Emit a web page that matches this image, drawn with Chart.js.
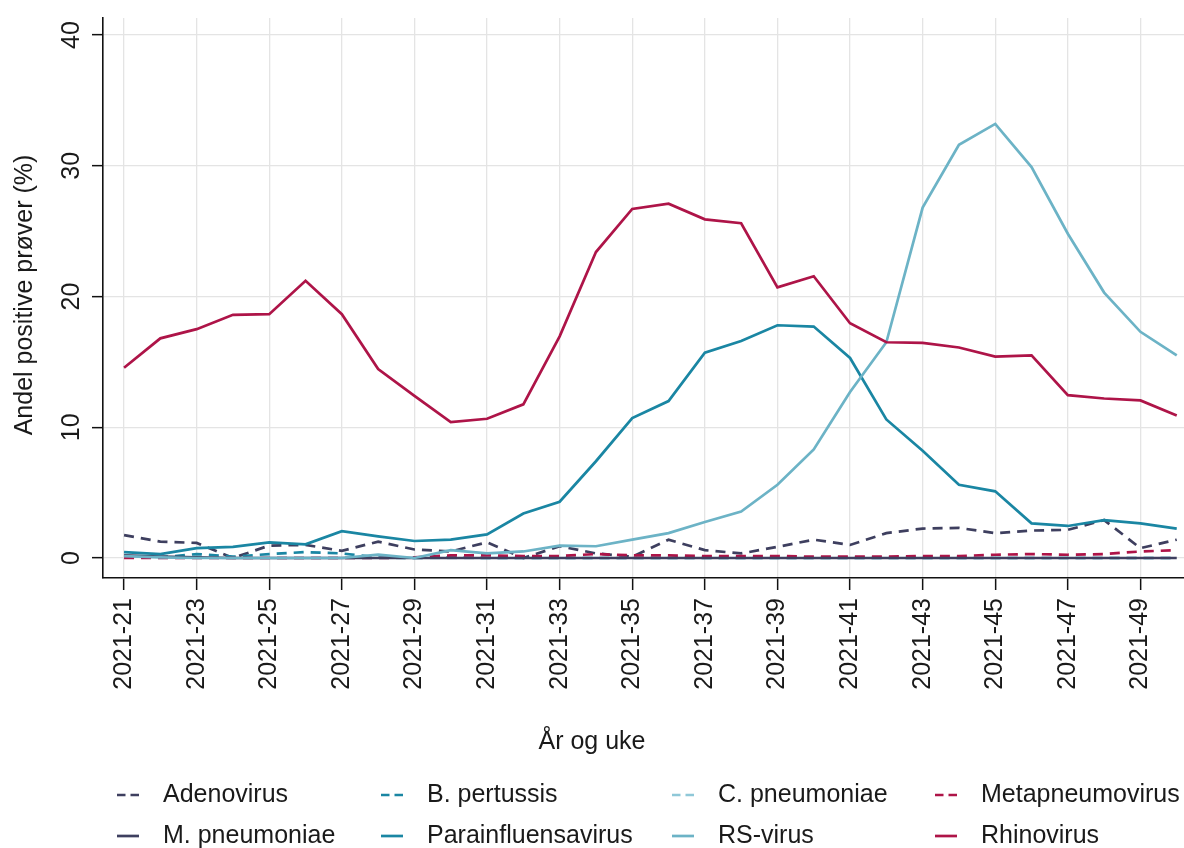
<!DOCTYPE html>
<html>
<head>
<meta charset="utf-8">
<script src="https://cdn.jsdelivr.net/npm/chart.js@4.4.1/dist/chart.umd.min.js"></script>
<style>
  html, body { margin: 0; padding: 0; background: #ffffff; }
  #wrap { width: 1184px; height: 848px; position: relative; }
</style>
</head>
<body>
<div id="wrap"><canvas id="chart" width="1184" height="848"></canvas></div>
<script>
// Uke-kategorier (år-uke)
const weekLabels = [
  '2021-21','2021-22','2021-23','2021-24','2021-25','2021-26','2021-27','2021-28','2021-29','2021-30',
  '2021-31','2021-32','2021-33','2021-34','2021-35','2021-36','2021-37','2021-38','2021-39','2021-40',
  '2021-41','2021-42','2021-43','2021-44','2021-45','2021-46','2021-47','2021-48','2021-49','2021-50'
];
const yTickValues = [0, 10, 20, 30, 40];

// Andel positive prøver (%) per agens
const adenovirus      = [1.75,1.25,1.15,0.0,0.95,1.0,0.55,1.25,0.65,0.5,1.2,0.0,0.9,0.35,0.1,1.4,0.6,0.35,0.85,1.4,1.0,1.9,2.25,2.3,1.9,2.1,2.15,2.9,0.75,1.4];
const bPertussis      = [0.1,0.05,0.3,0.1,0.3,0.45,0.35,0.05,0,0.05,0,0,0,0,0,0,0,0,0,0,0,0,0,0,0,0,0,0,0,0];
const cPneumoniae     = [0.1,0,0,0,0,0,0,0,0,0,0,0,0,0,0,0,0,0,0,0,0,0,0,0,0,0,0,0,0,0];
const metapneumovirus = [0,0,0,0,0,0,0,0,0.05,0.2,0.2,0.15,0.15,0.3,0.2,0.2,0.15,0.15,0.15,0.1,0.1,0.1,0.15,0.15,0.25,0.3,0.25,0.3,0.5,0.6];
const mPneumoniae     = [0.2,0.1,0.05,0,0,0,0,0,0,0,0,0,0,0,0,0,0,0,0,0,0,0,0,0,0,0,0,0,0,0];
const parainfluensa   = [0.45,0.3,0.75,0.85,1.2,1.05,2.05,1.65,1.3,1.4,1.8,3.4,4.3,7.4,10.7,12.0,15.7,16.6,17.8,17.7,15.3,10.6,8.2,5.6,5.1,2.65,2.45,2.9,2.65,2.25];
const rsVirus         = [0.15,0.05,0,0,0,0,0,0.25,0,0.6,0.35,0.5,0.95,0.9,1.4,1.9,2.75,3.55,5.6,8.3,12.7,16.5,26.8,31.6,33.2,29.9,24.8,20.3,17.3,15.5];
const rhinovirus      = [14.55,16.8,17.5,18.6,18.65,21.2,18.65,14.45,12.4,10.4,10.65,11.75,16.95,23.4,26.7,27.1,25.9,25.6,20.7,21.55,17.95,16.5,16.45,16.1,15.4,15.5,12.45,12.2,12.05,10.9];

const FONT = '"Liberation Sans", Arial, Helvetica, sans-serif';
const TEXT = '#1a1a1a';
const SLATE = '#3e3f5f';
const TEAL = '#1a86a3';
const LIGHT_TEAL = '#6cb3c6';
const PALE_TEAL = '#8fc8d8';
const CRIMSON = '#ae1448';
const DASH = [10, 7];

const seriesDefs = [
  { label: 'Adenovirus',         data: adenovirus,      color: SLATE,      dashed: true },
  { label: 'B. pertussis',       data: bPertussis,      color: TEAL,       dashed: true },
  { label: 'C. pneumoniae',      data: cPneumoniae,     color: PALE_TEAL,  dashed: true },
  { label: 'Metapneumovirus',    data: metapneumovirus, color: CRIMSON,    dashed: true },
  { label: 'M. pneumoniae',      data: mPneumoniae,     color: SLATE,      dashed: false },
  { label: 'Parainfluensavirus', data: parainfluensa,   color: TEAL,       dashed: false },
  { label: 'RS-virus',           data: rsVirus,         color: LIGHT_TEAL, dashed: false },
  { label: 'Rhinovirus',         data: rhinovirus,      color: CRIMSON,    dashed: false }
];

const datasets = seriesDefs.map((s, i) => ({
  label: s.label,
  data: s.data.map((v, k) => ({ x: k, y: v })),
  borderColor: s.color,
  backgroundColor: s.color,
  borderWidth: 2.7,
  borderDash: s.dashed ? DASH : [],
  pointRadius: 0,
  pointHoverRadius: 0,
  tension: 0,
  fill: false,
  order: seriesDefs.length - i
}));

// Legend, y tick labels and axis titles drawn on the canvas
const decorations = {
  id: 'decorations',
  afterDraw(chart) {
    const ctx = chart.ctx;
    const area = chart.chartArea;
    const yScale = chart.scales.y;
    ctx.save();
    ctx.fillStyle = TEXT;
    ctx.font = '25px ' + FONT;

    // rotated y tick labels
    yTickValues.forEach(v => {
      const py = yScale.getPixelForValue(v);
      ctx.save();
      ctx.translate(72, py);
      ctx.rotate(-Math.PI / 2);
      ctx.textAlign = 'center';
      ctx.textBaseline = 'middle';
      ctx.fillText(String(v), 0, 0);
      ctx.restore();
    });

    // y axis title
    ctx.save();
    ctx.translate(25, (area.top + area.bottom) / 2 - 3);
    ctx.rotate(-Math.PI / 2);
    ctx.textAlign = 'center';
    ctx.textBaseline = 'middle';
    ctx.fillText('Andel positive prøver (%)', 0, 0);
    ctx.restore();

    // x axis title
    ctx.textAlign = 'center';
    ctx.textBaseline = 'middle';
    ctx.fillText('År og uke', chart.width / 2, 742);

    // legend: 4 columns x 2 rows
    const colText = [163, 427, 718, 981];
    const rowY = [795, 836];
    chart.data.datasets.forEach((ds, i) => {
      const col = i % 4, row = Math.floor(i / 4);
      const tx = colText[col], ty = rowY[row];
      ctx.save();
      ctx.strokeStyle = ds.borderColor;
      ctx.lineWidth = 2.7;
      ctx.setLineDash(ds.borderDash && ds.borderDash.length ? [8.5, 5] : []);
      ctx.beginPath();
      ctx.moveTo(tx - 46, ty);
      ctx.lineTo(tx - 24, ty);
      ctx.stroke();
      ctx.restore();
      ctx.textAlign = 'left';
      ctx.textBaseline = 'middle';
      ctx.fillText(ds.label, tx, ty);
    });
    ctx.restore();
  }
};

new Chart(document.getElementById('chart'), {
  type: 'line',
  data: { datasets },
  plugins: [decorations],
  options: {
    responsive: false,
    devicePixelRatio: 1,
    animation: false,
    layout: { padding: { top: 18, right: 0, bottom: 0, left: 0 } },
    plugins: {
      legend: { display: false },
      tooltip: { enabled: false },
      title: { display: false }
    },
    scales: {
      x: {
        type: 'linear',
        min: -0.58,
        max: 29.2,
        afterBuildTicks(scale) {
          scale.ticks = weekLabels.map((_, i) => i).filter(i => i % 2 === 0).map(v => ({ value: v }));
        },
        afterFit(scale) { scale.height = 270; },
        ticks: {
          autoSkip: false,
          minRotation: 90,
          maxRotation: 90,
          padding: 8,
          color: TEXT,
          font: { family: FONT, size: 25 },
          callback: (v) => weekLabels[v] !== undefined ? weekLabels[v] : ''
        },
        grid: {
          display: true,
          color: '#e4e4e4',
          lineWidth: 1.3,
          drawTicks: true,
          tickLength: 12,
          tickColor: '#111111',
          tickWidth: 1.5
        },
        border: { display: true, color: '#111111', width: 1.6 }
      },
      y: {
        type: 'linear',
        min: -1.53,
        max: 41.3,
        afterBuildTicks(scale) {
          scale.ticks = yTickValues.map(v => ({ value: v }));
        },
        afterFit(scale) { scale.width = 103; },
        ticks: { display: false },
        grid: {
          display: true,
          color: '#e4e4e4',
          lineWidth: 1.3,
          drawTicks: true,
          tickLength: 11,
          tickColor: '#111111',
          tickWidth: 1.5
        },
        border: { display: true, color: '#111111', width: 1.6 }
      }
    }
  }
});
</script>
</body>
</html>
